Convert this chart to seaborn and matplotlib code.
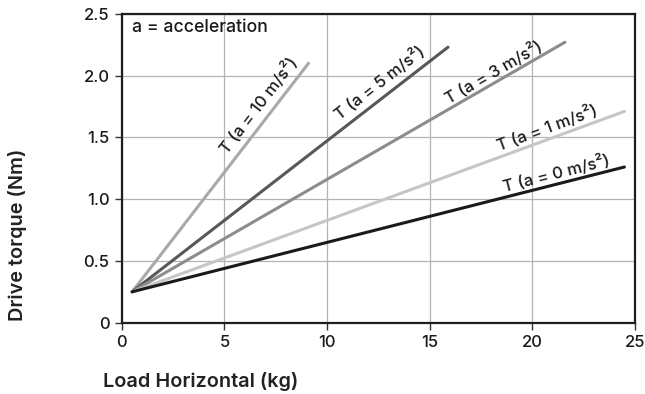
import numpy as np
import pandas as pd
import matplotlib
matplotlib.use("Agg")
import matplotlib.pyplot as plt
import seaborn as sns

# ---- data ----
series = ["a10", "a5", "a3", "a1", "a0"]
series_labels = ["T (a = 10 m/s²)", "T (a = 5 m/s²)", "T (a = 3 m/s²)",
                 "T (a = 1 m/s²)", "T (a = 0 m/s²)"]
x_start = [0.5, 0.5, 0.5, 0.5, 0.5]
y_start = [0.25, 0.25, 0.25, 0.25, 0.25]
x_end = [9.1, 15.9, 21.6, 24.5, 24.5]
y_end = [2.10, 2.23, 2.27, 1.71, 1.26]
x_ticks = [0, 5, 10, 15, 20, 25]
x_tick_labels = ["0", "5", "10", "15", "20", "25"]
y_ticks = [0, 0.5, 1.0, 1.5, 2.0, 2.5]
y_tick_labels = ["0", "0.5", "1.0", "1.5", "2.0", "2.5"]

# ---- styles / positions ----
colors = ["#a9a9a9", "#585858", "#8c8c8c", "#c6c6c6", "#1a1a1a"]
label_pos = [(6.67, 1.76), (12.57, 1.94), (18.1, 2.03), (20.75, 1.58), (21.2, 1.21)]
FONT = ["Inter", "DejaVu Sans"]

rows = []
for s, xs, ys, xe, ye in zip(series, x_start, y_start, x_end, y_end):
    rows.append({"series": s, "load": xs, "torque": ys})
    rows.append({"series": s, "load": xe, "torque": ye})
df = pd.DataFrame(rows)

sns.set_theme(style="whitegrid")
plt.rcParams["font.family"] = FONT
plt.rcParams["font.weight"] = "medium"

fig = plt.figure(figsize=(6.45, 3.94), dpi=100)
ax = fig.add_axes([0.189, 0.181, 0.795, 0.784])

sns.lineplot(data=df, x="load", y="torque", hue="series", hue_order=series,
             palette=colors, linewidth=2.2, legend=False, ax=ax,
             sort=False, estimator=None)

ax.set_xlim(0, 25)
ax.set_ylim(0, 2.5)
ax.set_xticks(x_ticks)
ax.set_xticklabels(x_tick_labels)
ax.set_yticks(y_ticks)
ax.set_yticklabels(y_tick_labels)
ax.grid(True, color="#b4b4b4", linewidth=0.9)
ax.set_facecolor("white")
for side in ["left", "bottom", "top", "right"]:
    ax.spines[side].set_visible(True)
    ax.spines[side].set_color("#1e1e1e")
    ax.spines[side].set_linewidth(1.6)
ax.tick_params(axis="both", which="major", direction="out", length=5, width=1,
               color="#333333", labelsize=12, labelcolor="#1a1a1a", pad=4,
               bottom=True, left=True)
for t in ax.get_xticklabels() + ax.get_yticklabels():
    t.set_fontweight("medium")

ax.set_xlabel("Load Horizontal (kg)", fontsize=14.3, fontweight="semibold",
              color="#222222", ha="left", va="center")
ax.xaxis.set_label_coords(-0.037, -0.192)
ax.set_ylabel("Drive torque (Nm)", fontsize=14.3, fontweight="semibold",
              color="#222222", va="center", ha="center")
ax.yaxis.set_label_coords(-0.203, 0.284)

ax.text(0.02, 0.955, "a = acceleration", transform=ax.transAxes, fontsize=12.7,
        fontweight="medium", ha="left", va="center", color="#1a1a1a")

fig.canvas.draw()
for lab, (lx, ly), xs, ys, xe, ye in zip(series_labels, label_pos, x_start,
                                          y_start, x_end, y_end):
    p0 = ax.transData.transform((xs, ys))
    p1 = ax.transData.transform((xe, ye))
    ang = np.degrees(np.arctan2(p1[1] - p0[1], p1[0] - p0[0]))
    ax.text(lx, ly, lab, rotation=ang, rotation_mode="anchor", ha="center",
            va="center", fontsize=12, fontweight="medium", color="#1a1a1a")

fig.savefig("out.png", dpi=100)
